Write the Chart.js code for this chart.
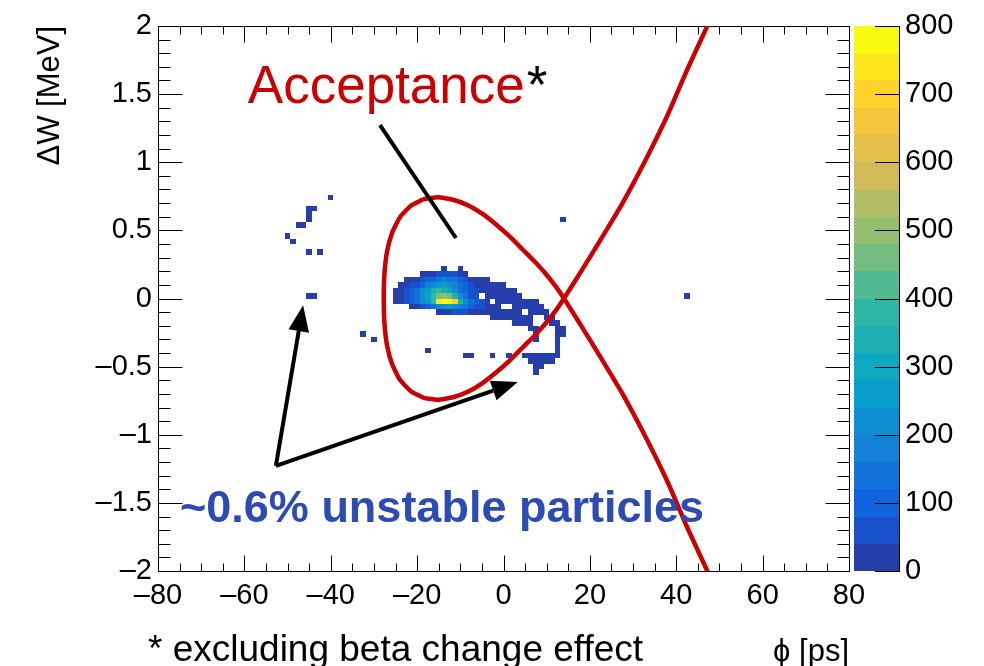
<!DOCTYPE html>
<html>
<head>
<meta charset="utf-8">
<script src="https://cdn.jsdelivr.net/npm/chart.js@4.4.1/dist/chart.umd.min.js"></script>
<style>
  html, body { margin: 0; padding: 0; background: #fff; }
  #wrap { width: 984px; height: 666px; }
</style>
</head>
<body>
<div id="wrap"><canvas id="phaseSpace" width="984" height="666"></canvas></div>
<script>
// Axis ranges and tick labels
const phiTicks = [-80, -60, -40, -20, 0, 20, 40, 60, 80];
const dWTicks = [-2, -1.5, -1, -0.5, 0, 0.5, 1, 1.5, 2];
const countTicks = [0, 100, 200, 300, 400, 500, 600, 700, 800];
const phiMinorPerMajor = 4;
const dWMinorPerMajor = 5;

// Histogram binning (phi in ps, dW in MeV) and colour contours
const phiBin = 1.25;
const dWBin = 0.04;
const nContours = 20;
const zMax = 800;

// Dense part of the histogram: [dW bin, first phi bin, counts...]
const coreRows = [
  [5, -11, [18]],
  [5, -8, [14]],
  [4, -15, [8, 18, 30, 48, 65, 70, 58, 35, 14]],
  [3, -18, [8, 15, 28, 50, 80, 115, 145, 160, 150, 120, 85, 55, 32, 20, 14, 9]],
  [2, -19, [8, 20, 40, 70, 110, 160, 210, 250, 260, 230, 180, 130, 85, 55, 35, 25, 20, 16, 12, 8]],
  [1, -20, [10, 25, 50, 90, 140, 200, 270, 330, 370, 340, 280, 210, 150, 100, 60, 40, 30, 24, 20, 16, 13, 10, 8]],
  [0, -20, [14, 35, 60, 100, 150, 210, 280, 360, 440, 500, 450, 340, 220, 130, 70, 40]],
  [0, -3, [20, 22, 22, 18, 15, 12, 8]],
  [-1, -20, [12, 30, 55, 90, 140, 200, 270, 360, 740, 800, 790, 700, 340, 220, 140, 85, 50, 30]],
  [-1, -1, [15, 18, 18, 16, 14, 12, 10, 8]],
  [-2, -17, [14, 30, 55, 90, 135, 180, 220, 240, 220, 180, 140, 95, 60, 40, 30, 22, 15]],
  [-2, 2, [12, 14, 14, 12, 10, 8]],
  [-3, -12, [10, 22, 35, 45, 48, 42, 35, 28, 22, 18, 15, 14, 12, 10, 9, 8]],
  [-3, 5, [10, 12, 12, 10]],
  [-4, -2, [8, 10, 12, 12, 12, 10, 9, 8]],
  [-4, 8, [10, 9]],
  [-5, 2, [8, 10, 10, 8]],
  [-5, 9, [9, 8]],
  [-6, 5, [8, 8]],
  [-6, 10, [8, 8]],
  [-7, 6, [8]],
  [-7, 10, [8, 7]],
  [-8, 6, [7]],
  [-8, 10, [7]],
  [-9, 10, [7]],
  [-10, 10, [7]],
  [-11, 4, [6, 8, 8, 8, 8, 7, 6]],
  [-12, 5, [7, 8, 8, 7, 6]],
  [-13, 6, [6, 6]],
  [-14, 6, [5]]
];

// Isolated particles outside the core: [dW bin, first phi bin, counts...]
const strayRows = [
  [18, -32, [8]],
  [16, -36, [6, 5]],
  [15, -36, [5]],
  [14, -36, [6]],
  [14, 11, [5]],
  [13, -38, [5, 6]],
  [11, -40, [4]],
  [10, -39, [5]],
  [8, -36, [6]],
  [8, -34, [5]],
  [0, -36, [6, 5]],
  [0, 34, [5]],
  [-7, -26, [4]],
  [-8, -24, [4]],
  [-10, -14, [4]],
  [-11, -7, [5, 5]],
  [-11, -2, [4]],
  [-11, 1, [4]]
];

// Separatrix (phi in ps, dW in MeV), one continuous path
const sepPhi = [48.7, 47.3, 42.5, 38.0, 32.9, 27.3, 20.7, 17.3, 14.0, 12.13, 9.58, 7.04, 4.49, 1.48, -1.53,
  -4.77, -8.24, -11.71, -15.19, -18.43, -21.44, -23.98, -25.83, -26.99, -27.57, -27.73, -27.57, -26.99,
  -25.83, -23.98, -21.44, -18.43, -15.19, -11.71, -8.24, -4.77, -1.53, 1.48, 4.49, 7.04, 9.58, 12.13,
  14.0, 17.3, 20.7, 27.3, 32.9, 38.0, 42.5, 47.3, 48.7];
const sepDW = [2.11, 2.007, 1.677, 1.347, 1.017, 0.686, 0.339, 0.165, 0, -0.087, -0.189, -0.277, -0.358, -0.454,
  -0.538, -0.619, -0.685, -0.725, -0.743, -0.729, -0.681, -0.597, -0.479, -0.340, -0.178, 0, 0.178, 0.340,
  0.479, 0.597, 0.681, 0.729, 0.743, 0.725, 0.685, 0.619, 0.538, 0.454, 0.358, 0.277, 0.189, 0.087, 0,
  -0.165, -0.339, -0.686, -1.017, -1.347, -1.677, -2.007, -2.11];

// ROOT kBird palette
const birdStops = [0, 0.125, 0.25, 0.375, 0.5, 0.625, 0.75, 0.875, 1];
const birdR = [0.2082, 0.0592, 0.0780, 0.0232, 0.1802, 0.5301, 0.8186, 0.9956, 0.9764];
const birdG = [0.1664, 0.3599, 0.5041, 0.6419, 0.7178, 0.7492, 0.7328, 0.7862, 0.9832];
const birdB = [0.5293, 0.8684, 0.8385, 0.7914, 0.6425, 0.4662, 0.3499, 0.1968, 0.0539];

function birdColor(t) {
  let i = 0;
  while (i < birdStops.length - 2 && t > birdStops[i + 1]) i++;
  const f = (t - birdStops[i]) / (birdStops[i + 1] - birdStops[i]);
  const c = arr => Math.round(255 * (arr[i] + f * (arr[i + 1] - arr[i])));
  return `rgb(${c(birdR)},${c(birdG)},${c(birdB)})`;
}
function bandColor(k) { return birdColor((k + 1) / nContours); }
function binColor(n) {
  const k = Math.min(nContours - 1, Math.floor(n / (zMax / nContours)));
  return bandColor(k);
}

const FONT = '"Liberation Sans", Arial, Helvetica, sans-serif';
const fmt = v => String(v).replace('-', '\u2013');

// Draws the 2D histogram cells through the x/y scales
const histPlugin = {
  id: 'hist2d',
  beforeDatasetsDraw(chart) {
    const { ctx, chartArea: a, scales: { x, y } } = chart;
    ctx.save();
    ctx.beginPath();
    ctx.rect(a.left, a.top, a.width, a.height);
    ctx.clip();
    coreRows.concat(strayRows).forEach(([row, col0, counts]) => {
      counts.forEach((n, k) => {
        const phi = (col0 + k) * phiBin;
        const dW = row * dWBin;
        const x0 = Math.round(x.getPixelForValue(phi - phiBin / 2));
        const x1 = Math.round(x.getPixelForValue(phi + phiBin / 2));
        const y0 = Math.round(y.getPixelForValue(dW + dWBin));
        const y1 = Math.round(y.getPixelForValue(dW));
        ctx.fillStyle = binColor(n);
        ctx.fillRect(x0, y0, x1 - x0, y1 - y0);
      });
    });
    ctx.restore();
  }
};

// Frame, ticks on all sides, labels, titles and the colour bar
const framePlugin = {
  id: 'rootFrame',
  beforeDatasetsDraw(chart) {
    const { ctx, chartArea: a, scales: { x, y, z } } = chart;
    const L = Math.round(a.left) + 0.5, R = Math.round(a.right) + 0.5;
    const T = Math.round(a.top) + 0.5, B = Math.round(a.bottom) + 0.5;
    ctx.save();
    ctx.strokeStyle = '#000';
    ctx.lineWidth = 1;
    ctx.strokeRect(L, T, R - L, B - T);

    ctx.beginPath();
    // phi ticks, bottom and top
    const phiStep = (phiTicks[1] - phiTicks[0]) / phiMinorPerMajor;
    const nPhi = (phiTicks.length - 1) * phiMinorPerMajor;
    for (let i = 0; i <= nPhi; i++) {
      const px = Math.round(x.getPixelForValue(phiTicks[0] + i * phiStep)) + 0.5;
      const len = i % phiMinorPerMajor === 0 ? 16 : 8;
      ctx.moveTo(px, B); ctx.lineTo(px, B - len);
      ctx.moveTo(px, T); ctx.lineTo(px, T + len);
    }
    // dW ticks, left and right
    const dWStep = (dWTicks[1] - dWTicks[0]) / dWMinorPerMajor;
    const nDW = (dWTicks.length - 1) * dWMinorPerMajor;
    for (let i = 0; i <= nDW; i++) {
      const py = Math.round(y.getPixelForValue(dWTicks[0] + i * dWStep)) + 0.5;
      const len = i % dWMinorPerMajor === 0 ? 24 : 12;
      ctx.moveTo(L, py); ctx.lineTo(L + len, py);
      ctx.moveTo(R, py); ctx.lineTo(R - len, py);
    }
    ctx.stroke();

    ctx.fillStyle = '#000';
    ctx.font = `29px ${FONT}`;
    ctx.textAlign = 'center';
    ctx.textBaseline = 'alphabetic';
    phiTicks.forEach(v => ctx.fillText(fmt(v), x.getPixelForValue(v), 604));
    ctx.textAlign = 'right';
    ctx.textBaseline = 'middle';
    dWTicks.forEach(v => ctx.fillText(fmt(v), a.left - 6, y.getPixelForValue(v)));

    // axis titles
    ctx.font = `31px ${FONT}`;
    ctx.textAlign = 'right';
    ctx.textBaseline = 'alphabetic';
    ctx.fillText('\u03D5 [ps]', a.right, 661);
    ctx.save();
    ctx.translate(59, a.top);
    ctx.rotate(-Math.PI / 2);
    ctx.fillText('\u0394W [MeV]', 0, 0);
    ctx.restore();

    // colour bar
    const cbL = Math.round(a.right) + 5, cbR = cbL + 45;
    for (let k = 0; k < nContours; k++) {
      const yTop = Math.round(z.getPixelForValue((k + 1) * zMax / nContours));
      const yBot = Math.round(z.getPixelForValue(k * zMax / nContours));
      ctx.fillStyle = bandColor(k);
      ctx.fillRect(cbL, yTop, cbR - cbL, yBot - yTop);
    }
    ctx.beginPath();
    ctx.moveTo(cbR + 0.5, Math.round(z.getPixelForValue(zMax)));
    ctx.lineTo(cbR + 0.5, Math.round(z.getPixelForValue(0)) + 1);
    countTicks.forEach(v => {
      const py = Math.round(z.getPixelForValue(v)) + 0.5;
      ctx.moveTo(cbR, py); ctx.lineTo(cbR - 24, py);
    });
    ctx.stroke();
    ctx.fillStyle = '#000';
    ctx.font = `29px ${FONT}`;
    ctx.textAlign = 'left';
    ctx.textBaseline = 'middle';
    countTicks.forEach(v => ctx.fillText(String(v), cbR + 6, z.getPixelForValue(v)));
    ctx.restore();
  }
};

function arrow(ctx, x0, y0, x1, y1, head) {
  const ang = Math.atan2(y1 - y0, x1 - x0);
  const bx = x1 - head * Math.cos(ang), by = y1 - head * Math.sin(ang);
  ctx.beginPath();
  ctx.moveTo(x0, y0);
  ctx.lineTo(bx, by);
  ctx.stroke();
  ctx.beginPath();
  ctx.moveTo(x1, y1);
  ctx.lineTo(bx + 0.4 * head * Math.sin(ang), by - 0.4 * head * Math.cos(ang));
  ctx.lineTo(bx - 0.4 * head * Math.sin(ang), by + 0.4 * head * Math.cos(ang));
  ctx.closePath();
  ctx.fill();
}

// Text notes and arrows, placed in data coordinates
const notesPlugin = {
  id: 'notes',
  afterDraw(chart) {
    const { ctx, scales: { x, y } } = chart;
    const P = (phi, dW) => [x.getPixelForValue(phi), y.getPixelForValue(dW)];
    ctx.save();
    ctx.textAlign = 'left';
    ctx.textBaseline = 'alphabetic';

    ctx.font = `53px ${FONT}`;
    const [ax, ay] = P(-59.2, 1.435);
    ctx.fillStyle = '#cc0000';
    ctx.fillText('Acceptance', ax, ay);
    const w = ctx.measureText('Acceptance').width;
    ctx.fillStyle = '#000';
    ctx.fillText('*', ax + w + 2, ay);

    ctx.strokeStyle = '#000';
    ctx.fillStyle = '#000';
    ctx.lineWidth = 4;
    ctx.lineCap = 'butt';
    const [p0x, p0y] = P(-28.6, 1.273);
    const [p1x, p1y] = P(-11.0, 0.444);
    ctx.beginPath();
    ctx.moveTo(p0x, p0y);
    ctx.lineTo(p1x, p1y);
    ctx.stroke();

    const [tx, ty] = P(-52.7, -1.229);
    const [h1x, h1y] = P(-46.4, -0.05);
    const [h2x, h2y] = P(3.3, -0.613);
    arrow(ctx, tx, ty, h1x, h1y, 26);
    arrow(ctx, tx, ty, h2x, h2y, 26);

    ctx.font = `bold 45px ${FONT}`;
    ctx.fillStyle = '#2d4bb4';
    const [bx, by] = P(-74.9, -1.64);
    ctx.fillText('~0.6% unstable particles', bx, by);

    ctx.font = `37px ${FONT}`;
    ctx.fillStyle = '#000';
    ctx.fillText('* excluding beta change effect', 148, 661);
    ctx.restore();
  }
};

new Chart(document.getElementById('phaseSpace'), {
  type: 'scatter',
  data: {
    datasets: [{
      label: 'Separatrix',
      data: sepPhi.map((p, i) => ({ x: p, y: sepDW[i] })),
      showLine: true,
      borderColor: '#cc0000',
      borderWidth: 4.5,
      pointRadius: 0,
      tension: 0.15,
      clip: 0
    }]
  },
  options: {
    responsive: false,
    animation: false,
    devicePixelRatio: 1,
    layout: { padding: { left: 158, right: 135, top: 26, bottom: 95 } },
    scales: {
      x: { type: 'linear', min: -80, max: 80, display: false },
      y: { type: 'linear', min: -2, max: 2, display: false },
      z: { type: 'linear', position: 'right', min: 0, max: 800, display: false }
    },
    plugins: { legend: { display: false }, tooltip: { enabled: false } }
  },
  plugins: [histPlugin, framePlugin, notesPlugin]
});
</script>
</body>
</html>
